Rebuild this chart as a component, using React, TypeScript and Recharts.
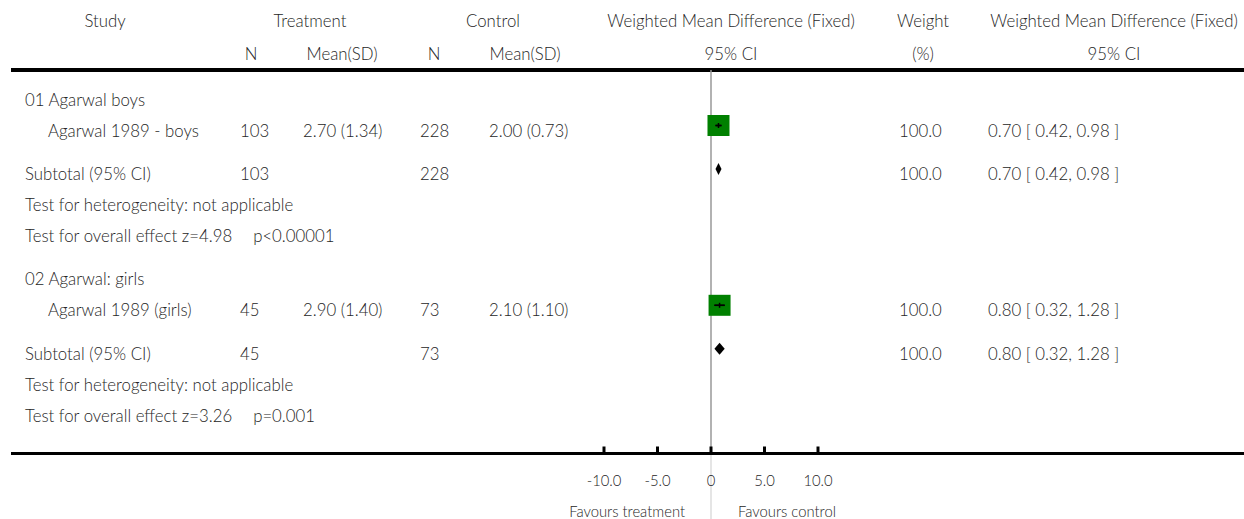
import {
  ComposedChart,
  XAxis,
  YAxis,
  Scatter,
  ErrorBar,
  ReferenceLine,
  ReferenceArea,
  Customized,
} from "recharts";

// study level data
const groups = ["01 Agarwal boys", "02 Agarwal: girls"];
const studies = ["Agarwal 1989 - boys", "Agarwal 1989 (girls)"];
const treatN = [103, 45];
const treatMean = [2.7, 2.9];
const treatSD = [1.34, 1.4];
const ctrlN = [228, 73];
const ctrlMean = [2.0, 2.1];
const ctrlSD = [0.73, 1.1];
const wmd = [0.7, 0.8];
const ciLow = [0.42, 0.32];
const ciHigh = [0.98, 1.28];
const weights = [100.0, 100.0];
const heterogeneity = ["not applicable", "not applicable"];
const zValues = ["4.98", "3.26"];
const pValues = ["p<0.00001", "p=0.001"];
const xTicks = [-10, -5, 0, 5, 10];

// layout
const W = 1244;
const H = 519;
const PLOT_TOP = 70;
const PLOT_BOTTOM = 453;
const FIRST_ROW = 94.5;
const ROW_UNIT = 31;
const GROUP_STEP = 5.8;
const Y_MIN = (PLOT_TOP - FIRST_ROW) / ROW_UNIT;
const Y_MAX = (PLOT_BOTTOM - FIRST_ROW) / ROW_UNIT;
const ZERO_X = 711;
const FONT = "Lato, 'Open Sans', sans-serif";
const TXT = "#262626";

const rowOf = (g: number, offset: number) => g * GROUP_STEP + offset;
const rowPx = (r: number) => FIRST_ROW + r * ROW_UNIT;
const fmt = (v: number) => v.toFixed(2);
const ciText = (i: number) => `${fmt(wmd[i])} [ ${fmt(ciLow[i])}, ${fmt(ciHigh[i])} ]`;

const studyPoints = studies.map((_, i) => ({
  x: wmd[i],
  y: rowOf(i, 1),
  err: [wmd[i] - ciLow[i], ciHigh[i] - wmd[i]],
}));

const T = ({ x, y, children, anchor = "start", size = 16.8 }: any) => (
  <text x={x} y={y} textAnchor={anchor} fontFamily={FONT} fontWeight={300} fontSize={size} fill={TXT}>
    {children}
  </text>
);

const Table = () => {
  const rows: any[] = [];
  groups.forEach((g, i) => {
    const b = (off: number) => rowPx(rowOf(i, off)) + 11;
    rows.push(
      <g key={g}>
        <T x={25} y={b(0)}>{g}</T>
        <T x={48} y={b(1)}>{studies[i]}</T>
        <T x={240} y={b(1)}>{treatN[i]}</T>
        <T x={303} y={b(1)}>{`${fmt(treatMean[i])} (${fmt(treatSD[i])})`}</T>
        <T x={420} y={b(1)}>{ctrlN[i]}</T>
        <T x={489} y={b(1)}>{`${fmt(ctrlMean[i])} (${fmt(ctrlSD[i])})`}</T>
        <T x={899} y={b(1)}>{weights[i].toFixed(1)}</T>
        <T x={988} y={b(1)}>{ciText(i)}</T>
        <T x={25} y={b(2.4)}>Subtotal (95% CI)</T>
        <T x={240} y={b(2.4)}>{treatN[i]}</T>
        <T x={420} y={b(2.4)}>{ctrlN[i]}</T>
        <T x={899} y={b(2.4)}>{weights[i].toFixed(1)}</T>
        <T x={988} y={b(2.4)}>{ciText(i)}</T>
        <T x={25} y={b(3.4)}>{`Test for heterogeneity: ${heterogeneity[i]}`}</T>
        <T x={25} y={b(4.4)}>
          {`Test for overall effect z=${zValues[i]}`}
          <tspan dx={21}>{pValues[i]}</tspan>
        </T>
      </g>
    );
  });
  return (
    <g>
      <T x={105} y={26.5} anchor="middle">Study</T>
      <T x={310} y={26.5} anchor="middle">Treatment</T>
      <T x={493} y={26.5} anchor="middle">Control</T>
      <T x={731} y={26.5} anchor="middle">Weighted Mean Difference (Fixed)</T>
      <T x={923} y={26.5} anchor="middle">Weight</T>
      <T x={1114} y={26.5} anchor="middle">Weighted Mean Difference (Fixed)</T>
      <T x={251} y={59.5} anchor="middle">N</T>
      <T x={342} y={59.5} anchor="middle">Mean(SD)</T>
      <T x={434} y={59.5} anchor="middle">N</T>
      <T x={525} y={59.5} anchor="middle">Mean(SD)</T>
      <T x={731} y={59.5} anchor="middle">95% CI</T>
      <T x={923} y={59.5} anchor="middle">(%)</T>
      <T x={1114} y={59.5} anchor="middle">95% CI</T>
      <line x1={11} x2={W} y1={PLOT_TOP} y2={PLOT_TOP} stroke="#000" strokeWidth={4} />
      <line x1={11} x2={W} y1={PLOT_BOTTOM + 0.5} y2={PLOT_BOTTOM + 0.5} stroke="#000" strokeWidth={3} />
      <line x1={ZERO_X} x2={ZERO_X} y1={PLOT_BOTTOM + 2} y2={H} stroke="#ddd" strokeWidth={1.5} />
      {rows}
      <T x={ZERO_X - 26} y={516.5} anchor="end" size={14.8}>Favours treatment</T>
      <T x={ZERO_X + 27} y={516.5} size={14.8}>Favours control</T>
    </g>
  );
};

const AxisTick = ({ x, y, payload }: any) => (
  <g>
    <line x1={x} x2={x} y1={y - 6.5} y2={y} stroke="#000" strokeWidth={3} />
    <T x={x} y={y + 33} anchor="middle" size={14.8}>
      {payload.value === 0 ? "0" : payload.value.toFixed(1)}
    </T>
  </g>
);

const Square = ({ cx, cy }: any) => (
  <rect x={cx - 11} y={cy - 10.5} width={22} height={21} fill="#008000" />
);

const Whisker = ({ cx, cy }: any) => (
  <line x1={cx} x2={cx} y1={cy - 2.5} y2={cy + 2.5} stroke="#000" strokeWidth={1.5} />
);

const Diamond = ({ x, y, width, height }: any) => {
  const cy = y + height / 2;
  return (
    <polygon
      points={`${x},${cy} ${x + width / 2},${cy - 6} ${x + width},${cy} ${x + width / 2},${cy + 6}`}
      fill="#000"
    />
  );
};

// CI line drawn on top of the square, its ends come from the x scale via the area rect
const CiLine = ({ x, y, width, height }: any) => {
  const cy = y + height / 2;
  return <line x1={x} x2={x + width} y1={cy} y2={cy} stroke="#000" strokeWidth={1.5} />;
};

export default function App() {
  return (
    <div style={{ position: "absolute", left: 0, top: 0, width: W, height: H, background: "#fff" }}>
      <ComposedChart
        width={W}
        height={H}
        data={studyPoints}
        margin={{ top: PLOT_TOP, right: W - 818, bottom: 0, left: 604 }}
      >
        <XAxis
          type="number"
          dataKey="x"
          domain={[-10, 10]}
          ticks={xTicks}
          height={H - PLOT_BOTTOM}
          axisLine={false}
          tickLine={false}
          tickSize={0}
          tickMargin={0}
          tick={<AxisTick />}
          interval={0}
        />
        <YAxis type="number" dataKey="y" domain={[Y_MIN, Y_MAX]} reversed hide allowDataOverflow />
        <Customized component={<Table />} />
        <ReferenceLine x={0} stroke="#999" strokeWidth={1.5} />
        {groups.map((g, i) => (
          <ReferenceArea
            key={g}
            x1={ciLow[i]}
            x2={ciHigh[i]}
            y1={rowOf(i, 2.4) - 0.3}
            y2={rowOf(i, 2.4) + 0.3}
            shape={<Diamond />}
          />
        ))}
        <Scatter data={studyPoints} shape={<Square />} isAnimationActive={false} />
        <Scatter data={studyPoints} shape={<Whisker />} isAnimationActive={false}>
          <ErrorBar dataKey="err" direction="x" width={0} stroke="#000" strokeWidth={1.5} zIndex={1000} />
        </Scatter>
        {studies.map((s, i) => (
          <ReferenceArea
            key={s}
            x1={ciLow[i]}
            x2={ciHigh[i]}
            y1={rowOf(i, 1) - 0.3}
            y2={rowOf(i, 1) + 0.3}
            shape={<CiLine />}
            zIndex={1000}
          />
        ))}
      </ComposedChart>
    </div>
  );
}
